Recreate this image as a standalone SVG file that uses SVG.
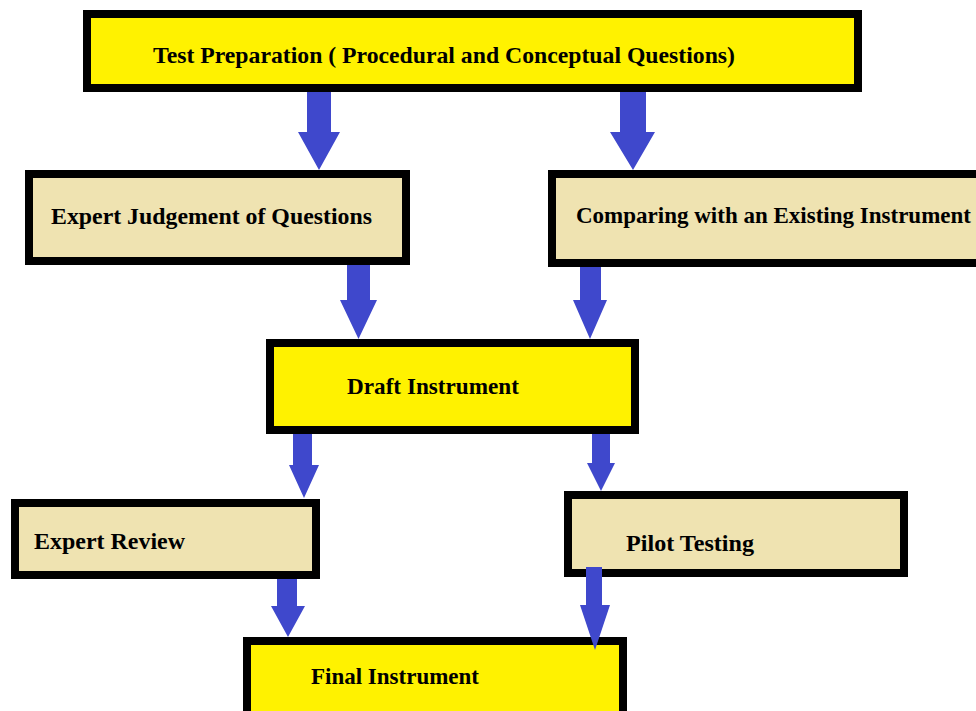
<svg xmlns="http://www.w3.org/2000/svg" width="976" height="711" viewBox="0 0 976 711">
<style>
.box{stroke:#000;stroke-width:8}
.y{fill:#FFF200}
.t{fill:#EFE3B1}
.lbl{font-family:"Liberation Serif","Times New Roman",serif;font-weight:bold;font-size:23px;fill:#000}
.arr{fill:#3F48CC}
</style>
<rect width="976" height="711" fill="#fff"/>
<g id="n1"><rect class="box y" x="87" y="14" width="771" height="74"/><text class="lbl" x="153" y="63" textLength="582" lengthAdjust="spacingAndGlyphs">Test Preparation ( Procedural and Conceptual Questions)</text></g>
<g id="n2"><rect class="box t" x="29" y="174" width="377" height="87"/><text class="lbl" x="51" y="224" textLength="321" lengthAdjust="spacingAndGlyphs">Expert Judgement of Questions</text></g>
<g id="n3"><rect class="box t" x="552" y="174" width="429" height="89"/><text class="lbl" x="576" y="223" textLength="395" lengthAdjust="spacingAndGlyphs">Comparing with an Existing Instrument</text></g>
<g id="n4"><rect class="box y" x="270" y="343" width="365" height="87"/><text class="lbl" x="347" y="394" textLength="172" lengthAdjust="spacingAndGlyphs">Draft Instrument</text></g>
<g id="n5"><rect class="box t" x="15" y="503" width="301" height="72"/><text class="lbl" x="34" y="549" textLength="151" lengthAdjust="spacingAndGlyphs">Expert Review</text></g>
<g id="n6"><rect class="box t" x="568" y="495" width="336" height="78"/><text class="lbl" x="626" y="551" textLength="128" lengthAdjust="spacingAndGlyphs">Pilot Testing</text></g>
<g id="n7"><rect class="box y" x="247" y="641" width="376" height="80"/><text class="lbl" x="311" y="684" textLength="168" lengthAdjust="spacingAndGlyphs">Final Instrument</text></g>
<g id="connectors">
<polygon class="arr" points="307,92 331,92 331,132 340,132 319,170 298,132 307,132"/>
<polygon class="arr" points="620,92 646,92 646,132 655,132 633,170 610,132 620,132"/>
<polygon class="arr" points="347,265 370,265 370,300 377,300 358.5,339 340,300 347,300"/>
<polygon class="arr" points="580,267 601,267 601,300 607,300 590,339 573,300 580,300"/>
<polygon class="arr" points="293,434 312,434 312,465 319,465 304,498 289,465 293,465"/>
<polygon class="arr" points="592,434 610,434 610,463 615,463 601,491 587,463 592,463"/>
<polygon class="arr" points="277,579 297,579 297,606 305,606 288,637 271,606 277,606"/>
<polygon class="arr" points="586,567 602,567 602,605 610,605 595,650 580,605 586,605"/>
</g>
</svg>
